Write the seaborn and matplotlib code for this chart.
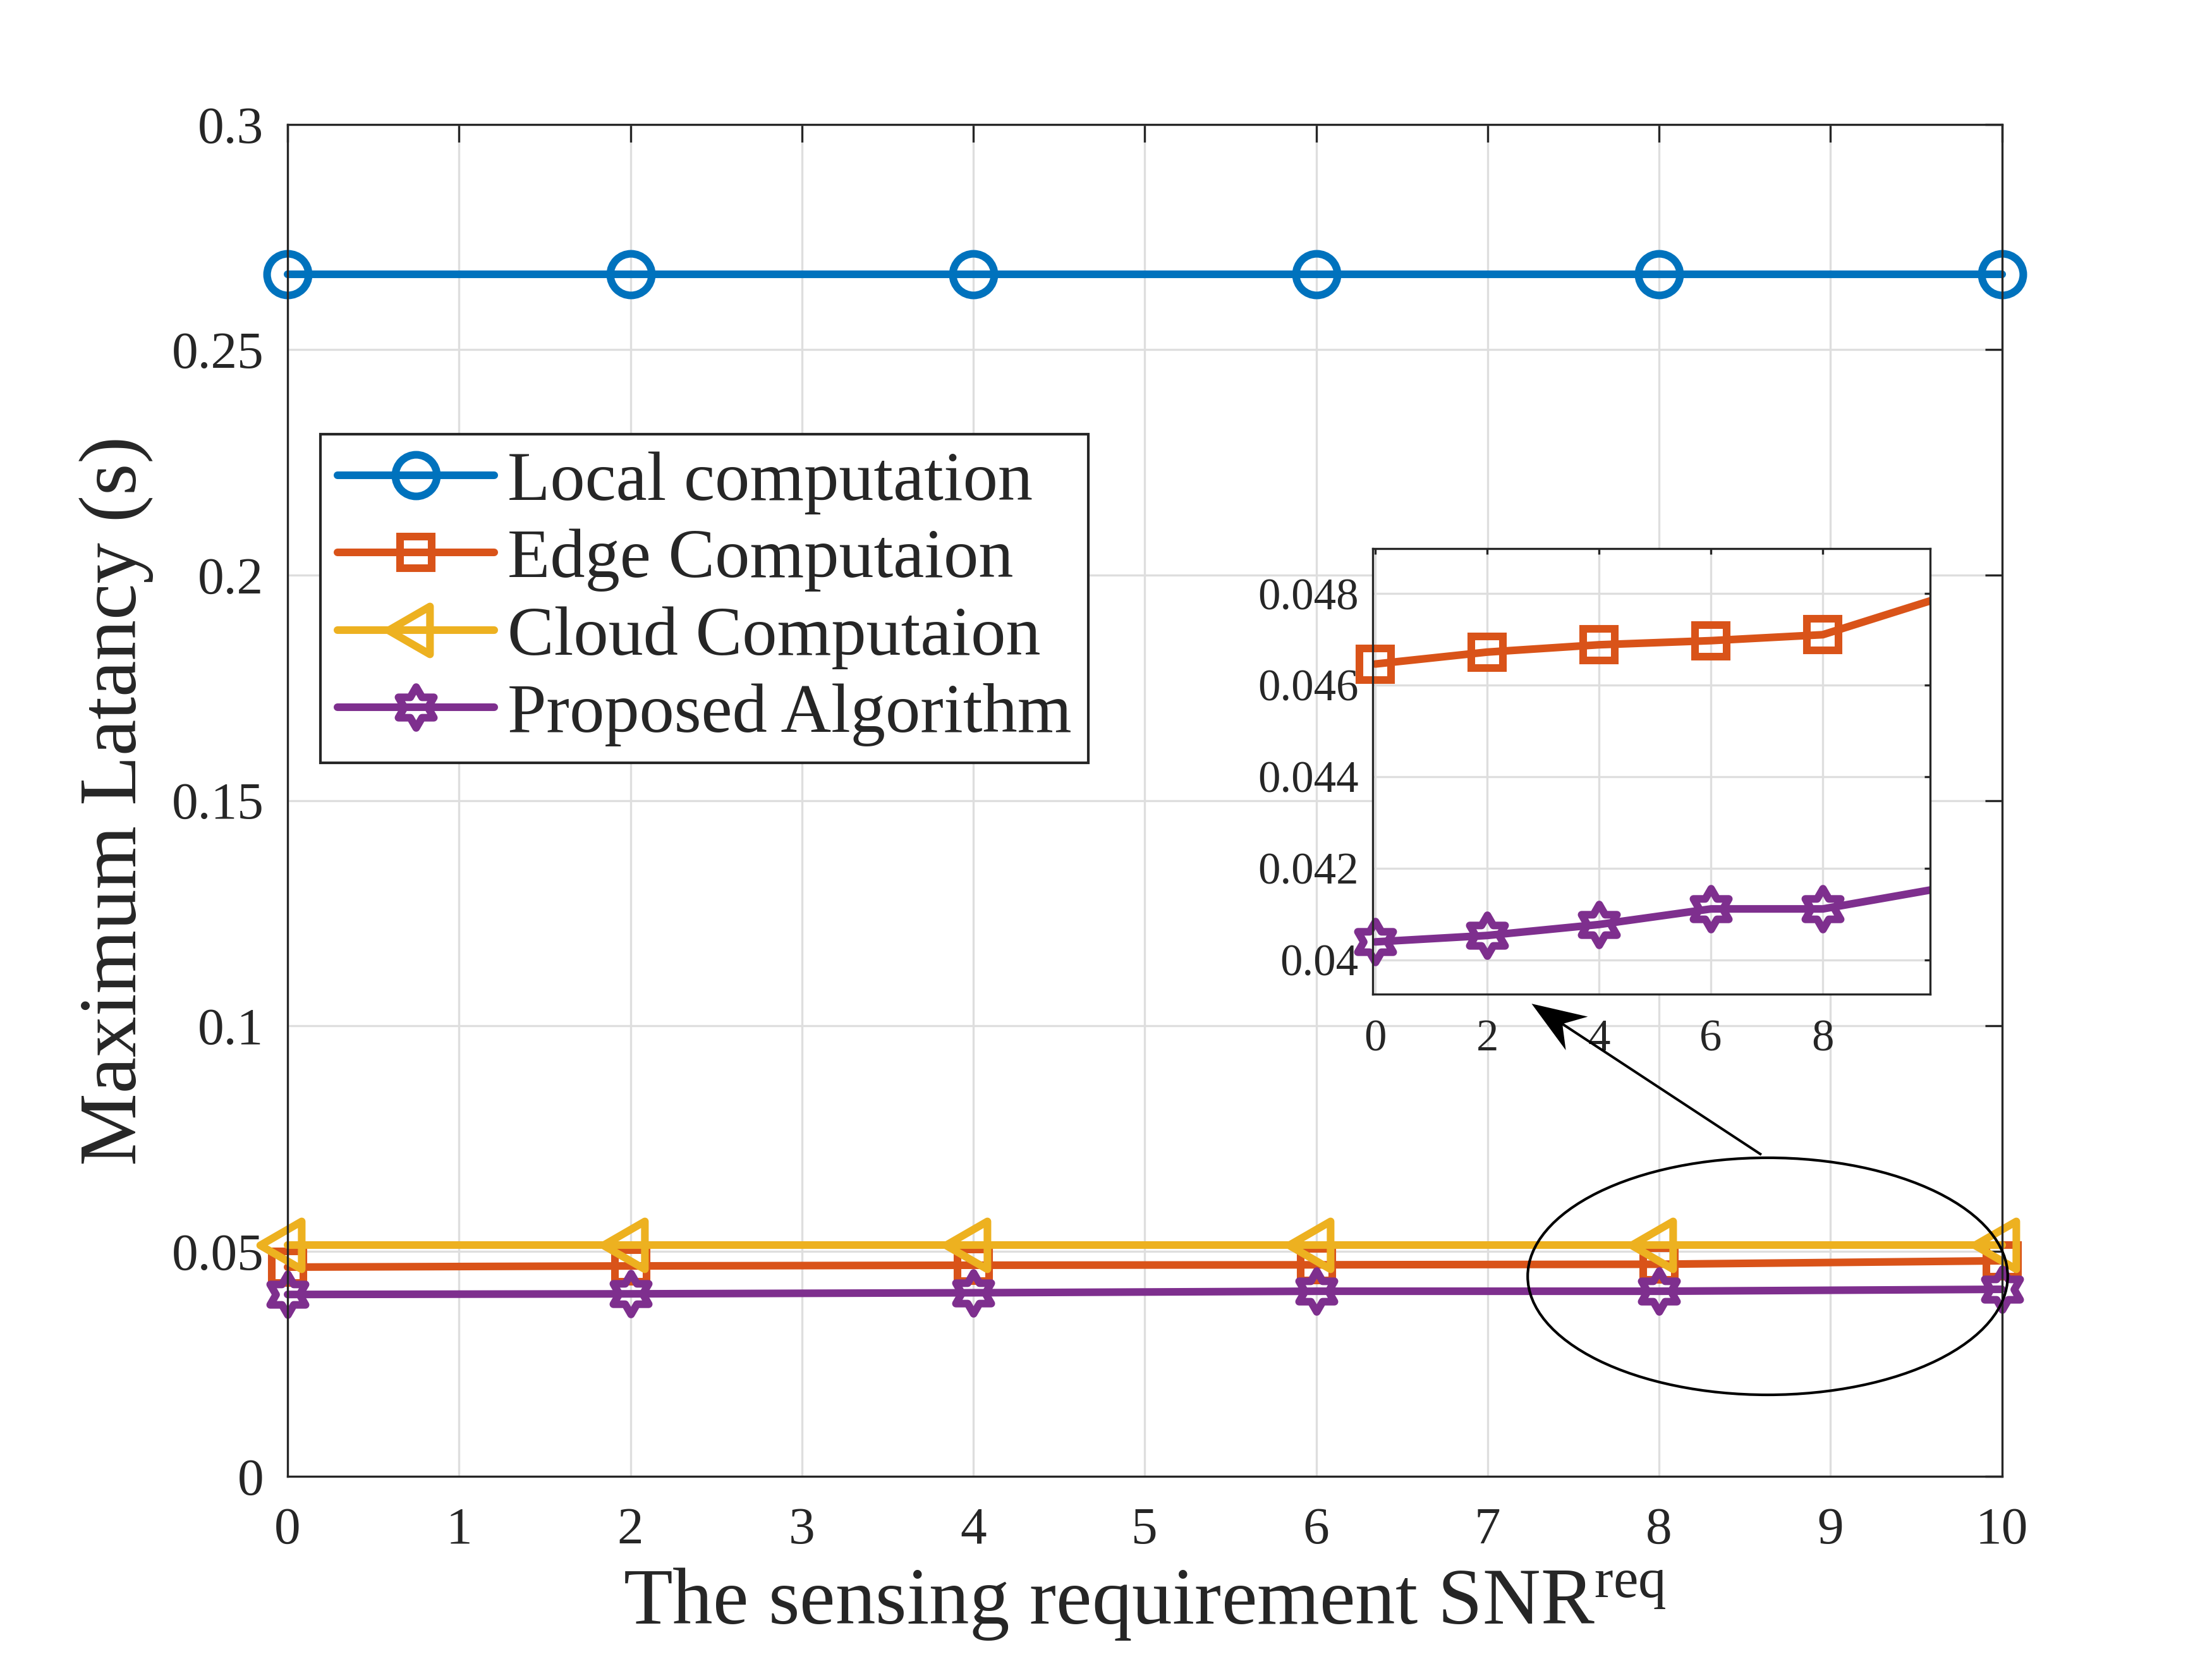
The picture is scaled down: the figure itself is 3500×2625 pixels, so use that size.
import numpy as np
import pandas as pd
import matplotlib
matplotlib.use("Agg")
import matplotlib.pyplot as plt
import seaborn as sns
from matplotlib.path import Path
from matplotlib.patches import Ellipse, FancyArrow

# ---------------- data ----------------
snr_req = [0, 2, 4, 6, 8, 10]
local_latency = [0.2668, 0.2668, 0.2668, 0.2668, 0.2668, 0.2668]
edge_latency = [0.04646, 0.04672, 0.04688, 0.04697, 0.04710, 0.04787]
cloud_latency = [0.0514, 0.0514, 0.0514, 0.0514, 0.0514, 0.0514]
proposed_latency = [0.04039, 0.04053, 0.04077, 0.04111, 0.04111, 0.04154]
series_names = ["Local computation", "Edge Computaion", "Cloud Computaion", "Proposed Algorithm"]

x_ticks = [0, 1, 2, 3, 4, 5, 6, 7, 8, 9, 10]
x_tick_labels = ["0", "1", "2", "3", "4", "5", "6", "7", "8", "9", "10"]
y_ticks = [0, 0.05, 0.1, 0.15, 0.2, 0.25, 0.3]
y_tick_labels = ["0", "0.05", "0.1", "0.15", "0.2", "0.25", "0.3"]
inset_x_ticks = [0, 2, 4, 6, 8]
inset_x_tick_labels = ["0", "2", "4", "6", "8"]
inset_y_ticks = [0.040, 0.042, 0.044, 0.046, 0.048]
inset_y_tick_labels = ["0.04", "0.042", "0.044", "0.046", "0.048"]

# ---------------- style ----------------
sns.set_style("white")
plt.rcParams["font.family"] = ["Liberation Serif", "DejaVu Serif"]
plt.rcParams["mathtext.fontset"] = "custom"
plt.rcParams["mathtext.rm"] = "Liberation Serif"
plt.rcParams["mathtext.it"] = "Liberation Serif:italic"
plt.rcParams["mathtext.bf"] = "Liberation Serif:bold"

TXT = "#262626"
colors = ["#0072BD", "#D95319", "#EDB120", "#7E2F8E"]

# MATLAB-like markers
ang_out = np.deg2rad(90 + 60 * np.arange(6))
ang_in = ang_out + np.deg2rad(30)
hex_verts = []
for ao, ai in zip(ang_out, ang_in):
    hex_verts.append((np.cos(ao), np.sin(ao)))
    hex_verts.append((np.cos(ai) / np.sqrt(3), np.sin(ai) / np.sqrt(3)))
hex_verts.append(hex_verts[0])
hexagram = Path(hex_verts, closed=True)
tri_verts = [(-1.0, 0.0), (0.5, 0.8660), (0.5, -0.8660), (-1.0, 0.0)]
tri_left = Path(tri_verts, closed=True)

markers = ["o", "s", tri_left, hexagram]
msizes = [15.8, 12.0, 21.0, 15.5]
LW = 2.9

df = pd.DataFrame({
    "snr": snr_req * 4,
    "lat": local_latency + edge_latency + cloud_latency + proposed_latency,
    "series": [n for n in series_names for _ in snr_req],
})

fig = plt.figure(figsize=(3500 / 300, 2625 / 300), dpi=300)
ax = fig.add_axes([0.13, 0.11, 0.775, 0.815])

for name, c, m, ms in zip(series_names, colors, markers, msizes):
    sub = df[df["series"] == name]
    sns.lineplot(data=sub, x="snr", y="lat", ax=ax, color=c, linewidth=LW,
                 marker=m, markersize=ms, markeredgewidth=LW,
                 markerfacecolor="none", markeredgecolor=c, label=name,
                 clip_on=False, legend=False)

ax.set_xlim(0, 10)
ax.set_ylim(0, 0.3)
ax.set_xticks(x_ticks)
ax.set_xticklabels(x_tick_labels)
ax.set_yticks(y_ticks)
ax.set_yticklabels(y_tick_labels)
ax.grid(True, color="#DEDEDE", linewidth=0.8)
ax.set_axisbelow(True)
for sp in ax.spines.values():
    sp.set_visible(True)
    sp.set_color(TXT)
    sp.set_linewidth(0.8)
ax.tick_params(axis="both", which="major", direction="in", length=6.6, width=0.8,
               color=TXT, labelcolor=TXT, labelsize=20, top=True, right=True)
ax.tick_params(axis="x", pad=11.5)
ax.tick_params(axis="y", pad=9)
ax.set_xlabel("The sensing requirement SNR$^{\\mathrm{req}}$", fontsize=30.5, color=TXT, labelpad=4.5)
ax.set_ylabel("Maximum Latancy (s)", fontsize=31, color=TXT, labelpad=6.8)

leg = ax.legend(loc="upper left", bbox_to_anchor=(0.1449, 0.7383), bbox_transform=fig.transFigure,
                borderaxespad=0, frameon=True, fancybox=False, framealpha=1, edgecolor=TXT,
                fontsize=26.5, handlelength=2.25, handletextpad=0.19, borderpad=0.24,
                labelspacing=0.2)
leg.get_frame().set_linewidth(1.0)
leg.get_frame().set_facecolor("white")

# ellipse highlight
ell = Ellipse((8.634, 0.04442), 2.80, 0.0526, transform=ax.transData, fill=False,
              edgecolor="black", linewidth=1.0, zorder=10, clip_on=False)
ax.add_patch(ell)

# arrow with notched (MATLAB-like) head, drawn in inch space
arrow_tip = (7.257, 0.1049)
arrow_tail = (8.597, 0.0714)
tip_px = ax.transData.transform(arrow_tip)
tail_px = ax.transData.transform(arrow_tail)
tip_in = tip_px / fig.dpi
tail_in = tail_px / fig.dpi
arr = FancyArrow(tail_in[0], tail_in[1], tip_in[0] - tail_in[0], tip_in[1] - tail_in[1],
                 width=4.0 / 300, head_width=63.5 / 300, head_length=85.6 / 300,
                 overhang=0.3, length_includes_head=True,
                 transform=fig.dpi_scale_trans, color="black", linewidth=0, zorder=11)
fig.add_artist(arr)

# ---------------- inset ----------------
ax2 = fig.add_axes([0.6205, 0.4008, 0.2521, 0.2685])
xlo, xhi = -0.05, 9.92
for idx in [1, 3]:
    name, c, m, ms = series_names[idx], colors[idx], markers[idx], msizes[idx]
    sub = df[df["series"] == name]
    sns.lineplot(data=sub, x="snr", y="lat", ax=ax2, color=c, linewidth=LW,
                 legend=False)
    inside = sub[(sub["snr"] >= xlo) & (sub["snr"] <= xhi)]
    sns.lineplot(data=inside, x="snr", y="lat", ax=ax2, color=c, linestyle="none",
                 marker=m, markersize=ms, markeredgewidth=LW, markerfacecolor="none",
                 markeredgecolor=c, clip_on=False, legend=False)
ax2.set_xlim(xlo, xhi)
ax2.set_ylim(0.03925, 0.04898)
ax2.set_xticks(inset_x_ticks)
ax2.set_xticklabels(inset_x_tick_labels)
ax2.set_yticks(inset_y_ticks)
ax2.set_yticklabels(inset_y_tick_labels)
ax2.grid(True, color="#DEDEDE", linewidth=0.8)
ax2.set_axisbelow(True)
ax2.set_facecolor("white")
for sp in ax2.spines.values():
    sp.set_visible(True)
    sp.set_color(TXT)
    sp.set_linewidth(0.8)
ax2.tick_params(axis="both", which="major", direction="in", length=2.2, width=0.8,
                color=TXT, labelcolor=TXT, labelsize=17, top=True, right=True)
ax2.tick_params(axis="x", pad=9.5)
ax2.tick_params(axis="y", pad=5.3)
ax2.set_xlabel("")
ax2.set_ylabel("")

fig.savefig("out.png", dpi=300, facecolor="white")
